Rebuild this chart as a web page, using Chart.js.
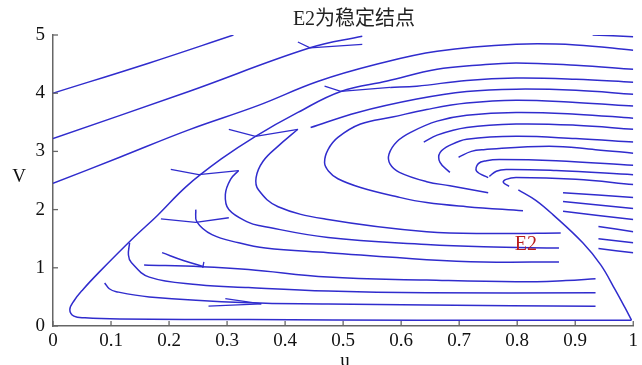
<!DOCTYPE html>
<html>
<head>
<meta charset="utf-8">
<script src="https://cdn.jsdelivr.net/npm/chart.js@4/dist/chart.umd.min.js"></script>
<style>
  html, body { margin: 0; padding: 0; background: #ffffff; }
  #wrap { width: 642px; height: 365px; }
</style>
</head>
<body>
<div id="wrap"><canvas id="phase" width="642" height="365"></canvas></div>
<script>
// Axis ticks
const xTickValues = [0, 0.1, 0.2, 0.3, 0.4, 0.5, 0.6, 0.7, 0.8, 0.9, 1];
const xTickLabels = ['0', '0.1', '0.2', '0.3', '0.4', '0.5', '0.6', '0.7', '0.8', '0.9', '1'];
const yTickValues = [0, 1, 2, 3, 4, 5];
const yTickLabels = ['0', '1', '2', '3', '4', '5'];

// Equilibrium marker
const equilibriumE2 = [0.815, 1.40];

// Trajectories, as [u, V] pairs
const upperLine1 = [[0, 4.0], [0.166, 4.52], [0.311, 5.0]];
const upperLine2 = [[0, 3.22], [0.234, 4.03], [0.443, 4.78], [0.533, 4.98]];
const upperLine3 = [[0, 2.45], [0.115, 2.90], [0.234, 3.37], [0.354, 3.79],
  [0.456, 4.20], [0.559, 4.50], [0.662, 4.72], [0.798, 4.84], [0.901, 4.83], [1.0, 4.74]];
const separatrix = [[1.0, 4.41], [0.901, 4.48], [0.798, 4.52], [0.730, 4.48], [0.662, 4.41],
  [0.576, 4.21], [0.496, 4.03], [0.422, 3.67], [0.349, 3.26], [0.290, 2.87], [0.230, 2.40],
  [0.180, 1.90], [0.137, 1.50], [0.080, 0.93], [0.051, 0.62], [0.036, 0.43], [0.029, 0.28],
  [0.036, 0.17], [0.055, 0.14], [0.115, 0.12], [0.337, 0.11], [0.627, 0.10], [0.997, 0.10]];
const descentLine = [[0.802, 2.34], [0.832, 2.16], [0.862, 1.91], [0.913, 1.43], [0.944, 1.05],
  [0.969, 0.62], [0.986, 0.31], [0.997, 0.10]];
const topShort = [[0.93, 5.0], [1.0, 4.97]];

const arc4 = [[0.581, 4.10], [0.627, 4.12], [0.713, 4.22], [0.798, 4.26], [0.901, 4.24], [1.0, 4.19]];
const arc5 = [[0.444, 3.41], [0.525, 3.67], [0.627, 3.90], [0.713, 4.03], [0.798, 4.07], [0.901, 4.05], [1.0, 3.98]];
const arc6 = [[1.0, 3.78], [0.901, 3.84], [0.798, 3.88], [0.713, 3.83], [0.644, 3.72], [0.585, 3.59],
  [0.530, 3.47], [0.491, 3.24], [0.474, 3.03], [0.468, 2.81], [0.475, 2.66], [0.491, 2.53],
  [0.530, 2.38], [0.593, 2.22], [0.644, 2.12], [0.713, 2.05], [0.810, 1.98]];
const arc7 = [[1.0, 3.57], [0.901, 3.64], [0.798, 3.67], [0.713, 3.62], [0.662, 3.52], [0.619, 3.34],
  [0.593, 3.17], [0.579, 2.95], [0.581, 2.78], [0.597, 2.64], [0.644, 2.48], [0.684, 2.41], [0.750, 2.29]];
const arc8 = [[0.639, 3.16], [0.662, 3.28], [0.713, 3.41], [0.798, 3.47], [0.901, 3.45], [1.0, 3.38]];
const arc9 = [[0.684, 2.64], [0.667, 2.81], [0.667, 2.98], [0.687, 3.12], [0.713, 3.21], [0.798, 3.26],
  [0.901, 3.22], [1.0, 3.16]];
const arc10 = [[0.699, 2.90], [0.721, 3.0], [0.742, 3.03], [0.855, 3.09], [0.935, 3.03], [1.0, 2.97]];
const arc11 = [[0.750, 2.55], [0.730, 2.66], [0.733, 2.79], [0.747, 2.84], [0.769, 2.86], [0.867, 2.84], [1.0, 2.76]];
const arc12 = [[0.752, 2.57], [0.764, 2.66], [0.781, 2.69], [0.867, 2.67], [1.0, 2.60]];
const hook13 = [[0.786, 2.40], [0.776, 2.47], [0.781, 2.52], [0.798, 2.55], [0.901, 2.52], [1.0, 2.43]];

const rightShort1 = [[0.879, 2.29], [1.0, 2.21]];
const rightShort2 = [[0.879, 2.14], [1.0, 2.02]];
const rightShort3 = [[0.879, 1.97], [1.0, 1.83]];
const rightShort4 = [[0.940, 1.71], [1.0, 1.62]];
const rightShort5 = [[0.940, 1.50], [1.0, 1.43]];
const rightShort6 = [[0.940, 1.33], [1.0, 1.26]];

const lowerC1 = [[0.422, 3.38], [0.388, 3.09], [0.362, 2.83], [0.350, 2.55], [0.354, 2.34], [0.388, 2.05],
  [0.474, 1.83], [0.644, 1.62], [0.764, 1.59], [0.875, 1.60]];
const lowerC2 = [[0.320, 2.67], [0.306, 2.52], [0.297, 2.26], [0.303, 2.0], [0.337, 1.78], [0.359, 1.72],
  [0.474, 1.52], [0.644, 1.40], [0.742, 1.36], [0.872, 1.34]];
const lowerE = [[0.246, 2.0], [0.248, 1.79], [0.274, 1.57], [0.320, 1.43], [0.366, 1.34], [0.474, 1.26],
  [0.644, 1.14], [0.742, 1.10], [0.872, 1.10]];
const lowerF = [[0.132, 1.43], [0.130, 1.22], [0.135, 1.09], [0.166, 0.84], [0.251, 0.71], [0.337, 0.66],
  [0.474, 0.60], [0.644, 0.57], [0.935, 0.57]];
const lowerG = [[0.157, 1.05], [0.256, 1.02], [0.337, 0.97], [0.474, 0.84], [0.644, 0.79], [0.798, 0.76],
  [0.884, 0.78], [0.935, 0.81]];
const lowerH = [[0.188, 1.26], [0.226, 1.12], [0.260, 1.02]];
const lowerI = [[0.089, 0.74], [0.097, 0.64], [0.109, 0.59], [0.166, 0.50], [0.337, 0.40], [0.474, 0.38],
  [0.644, 0.36], [0.935, 0.34]];

// Direction marks drawn as short straight strokes
const marks = [
  [[0.422, 4.88], [0.443, 4.78], [0.533, 4.84]],
  [[0.203, 2.69], [0.251, 2.60], [0.320, 2.67]],
  [[0.303, 3.38], [0.349, 3.26], [0.422, 3.38]],
  [[0.468, 4.12], [0.496, 4.03], [0.581, 4.10]],
  [[0.186, 1.84], [0.246, 1.78], [0.303, 1.86]],
  [[0.260, 1.10], [0.258, 1.00]],
  [[0.268, 0.34], [0.359, 0.38]],
  [[0.297, 0.47], [0.359, 0.38]]
];

const curves = [upperLine1, upperLine2, upperLine3, separatrix, descentLine, topShort,
  arc4, arc5, arc6, arc7, arc8, arc9, arc10, arc11, arc12, hook13,
  rightShort1, rightShort2, rightShort3, rightShort4, rightShort5, rightShort6,
  lowerC1, lowerC2, lowerE, lowerF, lowerG, lowerH, lowerI];

const STREAM_BLUE = 'rgb(48, 44, 205)';
const SERIF = "'Liberation Serif', 'Times New Roman', serif";

function toPoints(arr) { return arr.map(p => ({ x: p[0], y: p[1] })); }

const datasets = curves.map(c => ({
  data: toPoints(c), showLine: true, borderColor: STREAM_BLUE, borderWidth: 1.5,
  pointRadius: 0, tension: 0.4, fill: false
})).concat(marks.map(m => ({
  data: toPoints(m), showLine: true, borderColor: STREAM_BLUE, borderWidth: 1.3,
  pointRadius: 0, tension: 0, fill: false
})));

const decorations = {
  id: 'decorations',
  afterDraw(chart) {
    const ctx = chart.ctx;
    const xs = chart.scales.x, ys = chart.scales.y;
    const area = chart.chartArea;
    ctx.save();
    // inward tick marks
    ctx.strokeStyle = '#666';
    ctx.lineWidth = 1.3;
    xTickValues.forEach(v => {
      const px = xs.getPixelForValue(v);
      ctx.beginPath(); ctx.moveTo(px, area.bottom); ctx.lineTo(px, area.bottom - 5); ctx.stroke();
    });
    yTickValues.forEach(v => {
      const py = ys.getPixelForValue(v);
      ctx.beginPath(); ctx.moveTo(area.left, py); ctx.lineTo(area.left + 5, py); ctx.stroke();
    });
    // title
    ctx.fillStyle = '#222';
    ctx.font = "20px 'Liberation Serif', 'Noto Sans CJK SC', serif";
    ctx.textAlign = 'center';
    ctx.textBaseline = 'middle';
    ctx.fillText('E2为稳定结点', 354, 20);
    // axis titles
    ctx.font = '19px ' + SERIF;
    ctx.fillStyle = '#111';
    ctx.fillText('V', 19, 177);
    ctx.textBaseline = 'top';
    ctx.fillText('u', 345, 352);
    // equilibrium label
    ctx.fillStyle = 'rgb(185, 30, 30)';
    ctx.font = '20px ' + SERIF;
    ctx.textBaseline = 'middle';
    ctx.fillText('E2', xs.getPixelForValue(equilibriumE2[0]), ys.getPixelForValue(equilibriumE2[1]));
    ctx.restore();
  }
};

new Chart(document.getElementById('phase'), {
  type: 'scatter',
  data: { datasets },
  options: {
    responsive: false,
    animation: false,
    devicePixelRatio: 1,
    layout: { padding: { top: 35, right: 4, left: 0, bottom: 0 } },
    plugins: { legend: { display: false }, tooltip: { enabled: false } },
    scales: {
      x: {
        type: 'linear', min: 0, max: 1,
        afterBuildTicks: s => { s.ticks = xTickValues.map(v => ({ value: v })); },
        afterFit: s => { s.height = 39; },
        ticks: {
          callback: (v, i) => xTickLabels[i], autoSkip: false, maxRotation: 0,
          font: { family: SERIF, size: 19 }, color: '#111', padding: 4
        },
        grid: { display: false, drawTicks: false },
        border: { display: true, color: '#666', width: 1.5 }
      },
      y: {
        type: 'linear', min: 0, max: 5,
        afterBuildTicks: s => { s.ticks = yTickValues.map(v => ({ value: v })); },
        afterFit: s => { s.width = 53; },
        ticks: {
          callback: (v, i) => yTickLabels[i], autoSkip: false,
          font: { family: SERIF, size: 19 }, color: '#111', padding: 8
        },
        grid: { display: false, drawTicks: false },
        border: { display: true, color: '#666', width: 1.5 }
      }
    }
  },
  plugins: [decorations]
});
</script>
</body>
</html>
